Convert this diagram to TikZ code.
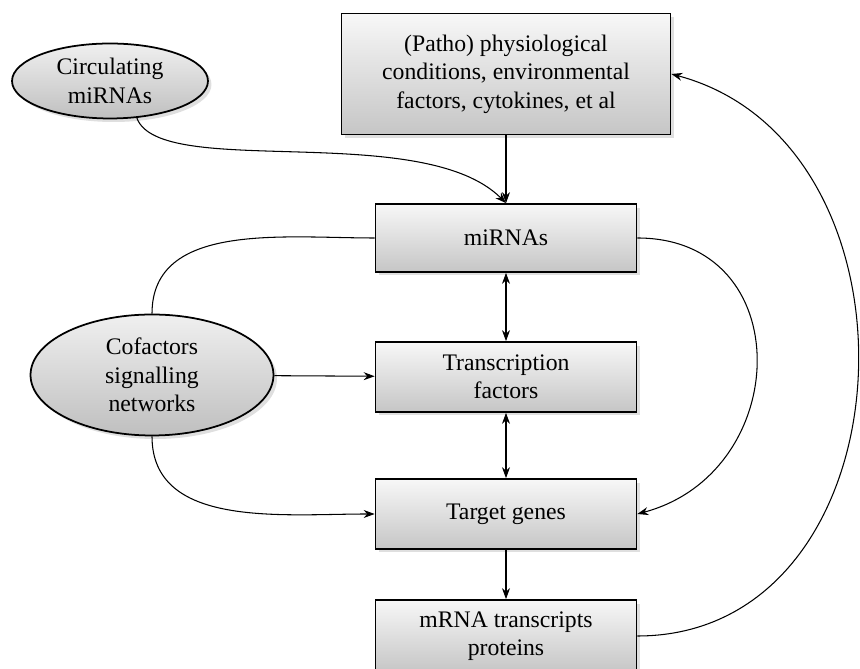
\documentclass[tikz,border=0pt]{standalone}
\usepackage{fontspec}
\setmainfont{Liberation Serif}
\newfontfamily\labelfont{Liberation Serif}
\usepackage{tikz}
\usetikzlibrary{arrows.meta, shapes.geometric, shadows}

\begin{document}
\begin{tikzpicture}[
  x = 0.02cm, y = 0.02cm,
  line width = 0.6pt,
  >={Stealth[length = 2.2mm, width = 1.6mm]},
  stage/.style = {draw, line width = 1pt, top color = gray!6, bottom color = gray!45,
    drop shadow = {opacity = 0.25, shadow xshift = 2pt, shadow yshift = -2pt},
    align = center, font = \labelfont\fontsize{13.5}{16.2}\selectfont,
    minimum width = 5.22cm, minimum height = 1.4cm},
  input/.style = {stage, ellipse, inner sep = 0pt, top color = gray!12, bottom color = gray!50},
  ]

  \useasboundingbox (0, 0) rectangle (860, 669);
  \clip (0, 0) rectangle (860, 669);

  \node at (110, 588)
  [input, name = Circulating, minimum width = 3.92cm, minimum height = 1.5cm] {Circulating\\miRNAs};

  \node at (506, 595)
  [stage, name = Conditions, minimum width = 6.58cm, minimum height = 2.42cm]
  {(Patho) physiological\\conditions, environmental\\factors, cytokines, et al};

  \node at (506, 431)
  [stage, name = MicroRNAs, minimum height = 1.36cm] {miRNAs};

  \node at (506, 292)
  [stage, name = TranscriptionFactors] {Transcription\\factors};

  \node at (506, 155)
  [stage, name = TargetGenes] {Target genes};

  \node at (506, 33)
  [stage, name = Transcripts, minimum height = 1.44cm] {mRNA transcripts\\proteins};

  \node at (152, 294)
  [input, name = Cofactors, minimum width = 4.86cm, minimum height = 2.42cm] {Cofactors\\signalling\\networks};

  \draw [->] (Conditions) to (MicroRNAs);

  \draw [->] (Circulating.-54) to [out = -70, in = 135, out looseness = 0.45, in looseness = 0.8] (MicroRNAs.north);

  \draw [<->] (MicroRNAs) to (TranscriptionFactors);

  \draw [<->] (TranscriptionFactors) to (TargetGenes);

  \draw [->] (TargetGenes) to (Transcripts);

  \draw [->] (Cofactors) to (TranscriptionFactors);

  \draw (Cofactors.north) to [out = 90, in = 180] (MicroRNAs.west);

  \draw [->] (Cofactors.south) to [out = -90, in = 180] (TargetGenes.west);

  \draw [->] (MicroRNAs.east) to [out = 0, in = 15, looseness = 1.5] (TargetGenes.east);

  \draw [->] (Transcripts.east) to [out = 0, in = -15, looseness = 1.25] (Conditions.east);

\end{tikzpicture}
\end{document}
